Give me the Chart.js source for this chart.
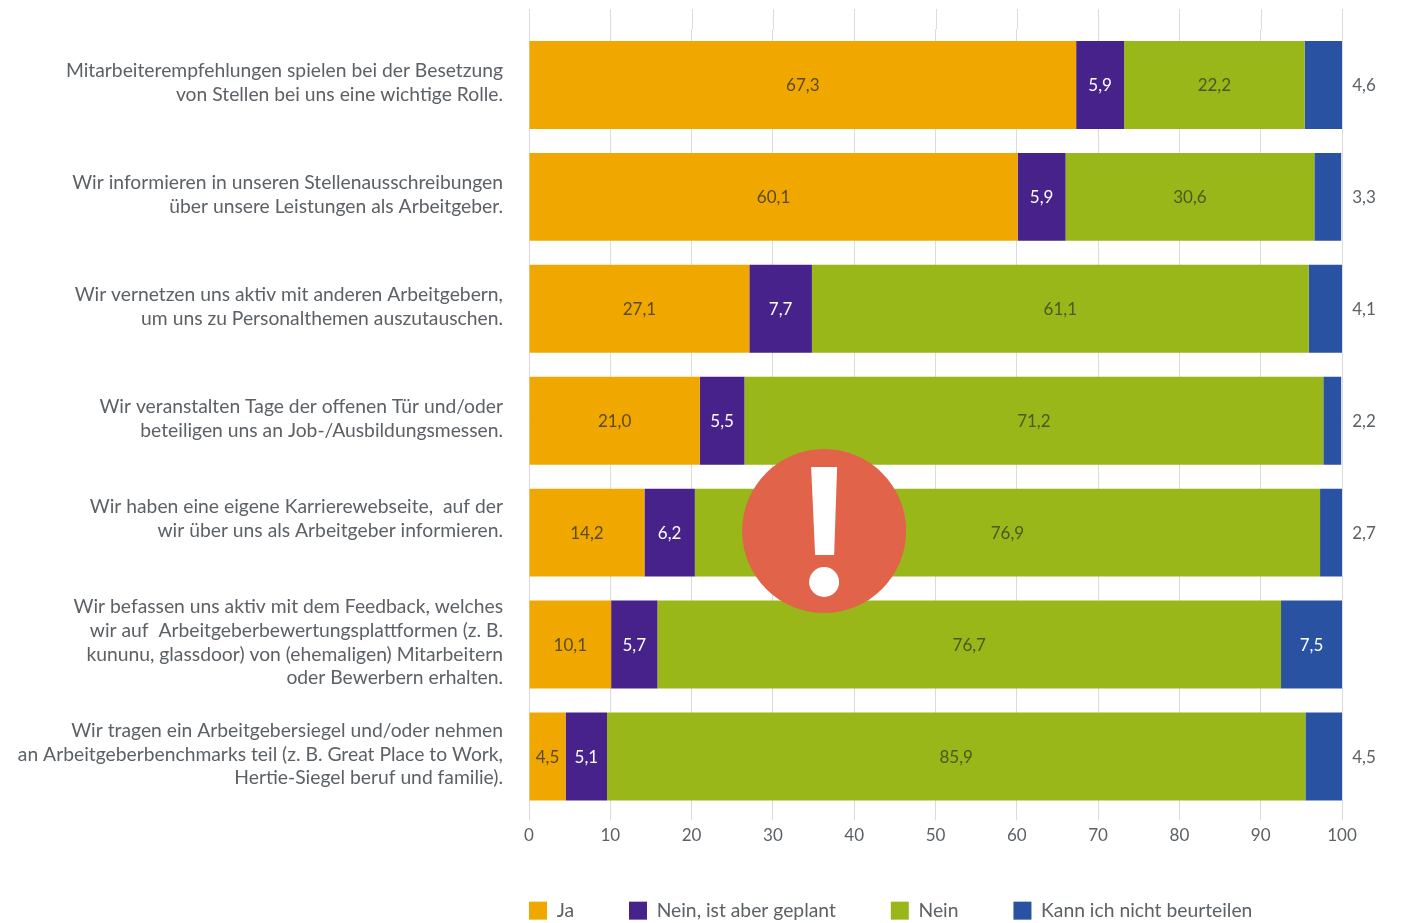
<!DOCTYPE html>
<html lang="de">
<head>
<meta charset="utf-8">
<title>Arbeitgebermarke</title>
<script src="https://cdn.jsdelivr.net/npm/chart.js@4/dist/chart.umd.min.js"></script>
<style>
	html, body { margin: 0; background: #fff; }
	canvas { display: block; }
</style>
</head>
<body>
<canvas id="chart" width="1405" height="923"></canvas>
<script>
//the empty line in the fifth label lifts it a little, it sits high in the original too
const categories = [
	["Mitarbeiterempfehlungen spielen bei der Besetzung", "von Stellen bei uns eine wichtige Rolle."],
	["Wir informieren in unseren Stellenausschreibungen", "über unsere Leistungen als Arbeitgeber."],
	["Wir vernetzen uns aktiv mit anderen Arbeitgebern,", "um uns zu Personalthemen auszutauschen."],
	["Wir veranstalten Tage der offenen Tür und/oder", "beteiligen uns an Job-/Ausbildungsmessen."],
	["Wir haben eine eigene Karrierewebseite,  auf der", "wir über uns als Arbeitgeber informieren.", ""],
	["Wir befassen uns aktiv mit dem Feedback, welches", "wir auf  Arbeitgeberbewertungsplattformen (z. B.", "kununu, glassdoor) von (ehemaligen) Mitarbeitern", "oder Bewerbern erhalten."],
	["Wir tragen ein Arbeitgebersiegel und/oder nehmen", "an Arbeitgeberbenchmarks teil (z. B. Great Place to Work,", "Hertie-Siegel beruf und familie)."]
];
const seriesNames = ["Ja", "Nein, ist aber geplant", "Nein", "Kann ich nicht beurteilen"];
const ja = [67.3, 60.1, 27.1, 21.0, 14.2, 10.1, 4.5];
const geplant = [5.9, 5.9, 7.7, 5.5, 6.2, 5.7, 5.1];
const nein = [22.2, 30.6, 61.1, 71.2, 76.9, 76.7, 85.9];
const unklar = [4.6, 3.3, 4.1, 2.2, 2.7, 7.5, 4.5];

const colors = ["#f0a800", "#47228a", "#9ab719", "#2a52a2"];
const labelColors = ["#5a4a20", "#ffffff", "#4a5a20", "#ffffff"];
const textColor = "#5c6166";
const fontName = "Lato, sans-serif";
const legendGap = 55; //space between legend entries, chart.js also uses it above and below

//grid lines run a bit above the first bar in the original
const topGrid = {
	id: "topGrid",
	beforeDatasetsDraw(chart) {
		const ctx = chart.ctx;
		const x = chart.scales.x;
		ctx.save();
		ctx.strokeStyle = "#dcdcdc";
		ctx.lineWidth = 1;
		x.ticks.forEach(function(t) {
			const px = Math.round(x.getPixelForValue(t.value)) + 0.5;
			ctx.beginPath();
			ctx.moveTo(px, 9);
			ctx.lineTo(px, chart.chartArea.top);
			ctx.stroke();
		});
		ctx.restore();
	}
};

//numbers on the bars, small blue segments get theirs right of the bar
const valueLabels = {
	id: "valueLabels",
	afterDatasetsDraw(chart) {
		const ctx = chart.ctx;
		ctx.save();
		ctx.font = "17px " + fontName;
		ctx.textAlign = "center";
		ctx.textBaseline = "middle";
		chart.data.datasets.forEach(function(ds, i) {
			chart.getDatasetMeta(i).data.forEach(function(bar, j) {
				const v = ds.data[j];
				const txt = v.toFixed(1).replace(".", ",");
				let x = (bar.base + bar.x) / 2;
				ctx.fillStyle = labelColors[i];
				if (i == 3 && v < 7) {
					x = chart.scales.x.getPixelForValue(100) + 22;
					ctx.fillStyle = textColor;
				}
				ctx.fillText(txt, x, bar.y + 1);
			});
		});
		ctx.restore();
	}
};

//the red warning sign on top of the chart
const warning = {
	id: "warning",
	afterDraw(chart) {
		const ctx = chart.ctx;
		const cx = chart.scales.x.getPixelForValue(36.3);
		const cy = 531;
		ctx.save();
		ctx.fillStyle = "#e0634a";
		ctx.beginPath();
		ctx.arc(cx, cy, 82, 0, Math.PI * 2);
		ctx.fill();
		ctx.fillStyle = "#ffffff";
		ctx.beginPath();
		ctx.moveTo(cx - 13, cy - 64);
		ctx.lineTo(cx + 13, cy - 64);
		ctx.lineTo(cx + 10, cy + 24);
		ctx.lineTo(cx - 9, cy + 24);
		ctx.closePath();
		ctx.fill();
		ctx.beginPath();
		ctx.arc(cx, cy + 51, 15, 0, Math.PI * 2);
		ctx.fill();
		ctx.restore();
	}
};

//chart.js starts the legend one gap in and one gap down, pull it back to the axis
const legendSpot = {
	id: "legendSpot",
	afterLayout(chart) {
		chart.legend.left = chart.chartArea.left - legendGap;
		chart.legend.top = 901 - legendGap;
	}
};

const values = [ja, geplant, nein, unklar];

new Chart(document.getElementById("chart").getContext("2d"), {
	type: "bar",
	data: {
		labels: categories,
		datasets: seriesNames.map(function(name, i) {
			return {
				label: name,
				data: values[i],
				backgroundColor: colors[i],
				categoryPercentage: 1,
				barPercentage: 88 / 112
			};
		})
	},
	options: {
		indexAxis: "y",
		responsive: false,
		animation: false,
		layout: { padding: { top: 29, right: 63, bottom: -80, left: 0 } },
		plugins: {
			title: { display: false },
			tooltip: { enabled: false },
			legend: {
				position: "bottom",
				align: "start",
				fullSize: false,
				labels: {
					boxWidth: 18,
					boxHeight: 18,
					padding: legendGap,
					color: textColor,
					font: { family: fontName, size: 19.3 }
				}
			}
		},
		scales: {
			x: {
				stacked: true,
				min: 0,
				max: 100,
				afterFit(scale) {
					scale.height = 32;
					scale.paddingLeft = 0;
					scale.paddingRight = 0;
				},
				grid: { color: "#dcdcdc", tickLength: 8 },
				border: { display: false },
				ticks: {
					stepSize: 10,
					maxRotation: 0,
					padding: 5,
					color: textColor,
					font: { family: fontName, size: 17 }
				}
			},
			y: {
				stacked: true,
				afterFit(scale) {
					scale.width = 529;
					scale.paddingTop = 0; //long labels would push the plot away from the top
					scale.paddingBottom = 0;
				},
				grid: { display: false, drawTicks: false },
				border: { display: false },
				ticks: {
					padding: 26,
					autoSkip: false,
					labelOffset: -2,
					color: textColor,
					font: { family: fontName, size: 19.3, lineHeight: 1.225 }
				}
			}
		}
	},
	plugins: [topGrid, valueLabels, warning, legendSpot]
});
</script>
</body>
</html>
